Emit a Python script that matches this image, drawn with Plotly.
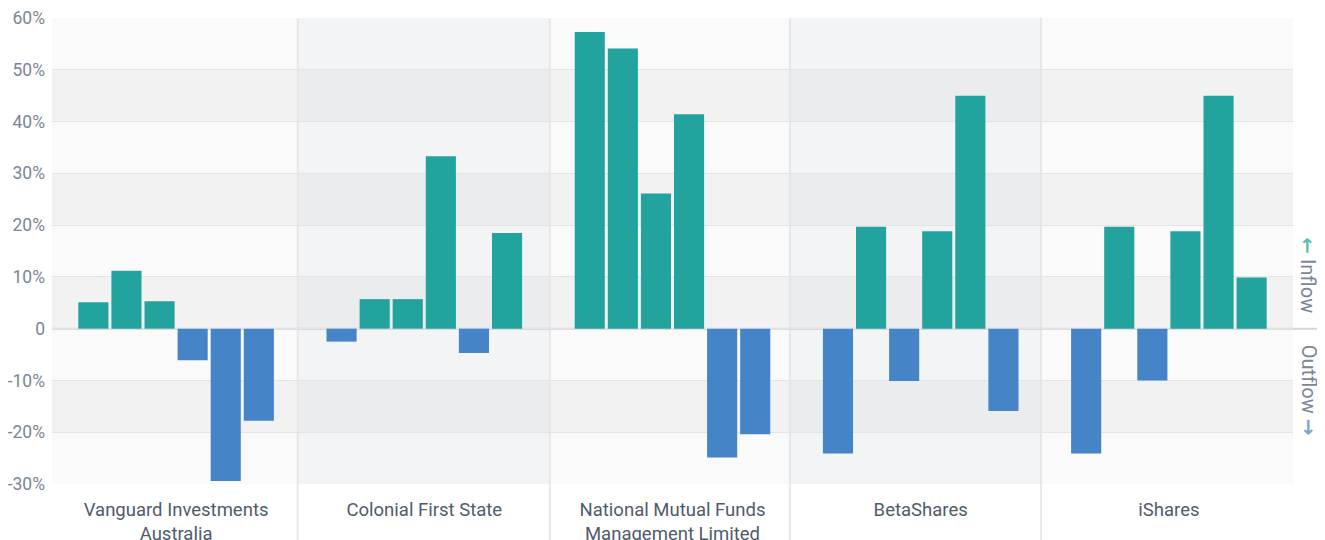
import plotly.graph_objects as go

categories = ["Vanguard Investments<br>Australia", "Colonial First State",
              "National Mutual Funds<br>Management Limited", "BetaShares", "iShares"]
series_names = ["Period 1", "Period 2", "Period 3", "Period 4", "Period 5", "Period 6"]
# values per series (one list per bar slot), in percent
s1 = [5.1, -2.5, 57.3, -24.1, -24.1]
s2 = [11.2, 5.7, 54.1, 19.7, 19.7]
s3 = [5.3, 5.7, 26.1, -10.1, -10.0]
s4 = [-6.1, 33.3, 41.4, 18.8, 18.8]
s5 = [-29.4, -4.7, -24.9, 45.0, 45.0]
s6 = [-17.8, 18.5, -20.4, -15.9, 9.9]
series = [s1, s2, s3, s4, s5, s6]

y_ticks = [-30, -20, -10, 0, 10, 20, 30, 40, 50, 60]
y_tick_text = ["-30%", "-20%", "-10%", "0", "10%", "20%", "30%", "40%", "50%", "60%"]

POS = "#23a39e"
NEG = "#4584c6"
FONT = "Roboto"

fig = go.Figure()
for name, vals in zip(series_names, series):
    fig.add_trace(go.Bar(
        x=list(range(len(categories))), y=vals, name=name,
        marker=dict(color=[POS if v >= 0 else NEG for v in vals], line=dict(width=0)),
        hovertemplate="%{y:.1f}%<extra></extra>",
    ))

shapes = []
# horizontal alternating bands
for lo in [-20, 0, 20, 40]:
    shapes.append(dict(type="rect", xref="paper", yref="y", x0=0, x1=1, y0=lo, y1=lo + 10,
                       fillcolor="#f2f2f2", line=dict(width=0), layer="below"))
# tinted columns for 2nd and 4th groups
for x0, x1 in [(0.49, 1.506), (2.473, 3.485)]:
    shapes.append(dict(type="rect", xref="x", yref="y", x0=x0, x1=x1, y0=-30, y1=60,
                       fillcolor="rgba(130,150,190,0.06)", line=dict(width=0), layer="below"))
# vertical separators
for xs in [0.49, 1.506, 2.473, 3.485]:
    shapes.append(dict(type="line", xref="x", yref="paper", x0=xs, x1=xs, y0=-0.16, y1=1,
                       line=dict(color="#e8e9ec", width=2), layer="below"))
# zero line extending to the right labels
shapes.append(dict(type="line", xref="paper", yref="y", x0=0, x1=1.022, y0=0, y1=0,
                   line=dict(color="#d3d6db", width=2), layer="below"))

ARROW_STYLE = "font-family:\"DejaVu Sans\";font-weight:bold;font-size:20px;color:{}"

fig.update_layout(
    width=1325, height=540,
    margin=dict(l=44, r=40, t=10, b=64, autoexpand=False),
    paper_bgcolor="white", plot_bgcolor="#fafafa",
    barmode="group", bargap=0.2, bargroupgap=0.09,
    showlegend=False,
    font=dict(family=FONT),
    shapes=shapes,
    xaxis=dict(tickvals=list(range(len(categories))), ticktext=categories,
               range=[-0.5, 4.5], showgrid=False, zeroline=False, showline=False,
               tickfont=dict(size=18.5, color="#4f5b6b", family=FONT), ticks="",
               ticklabelstandoff=12, automargin=False),
    yaxis=dict(range=[-30, 60], tickvals=y_ticks, ticktext=y_tick_text,
               showgrid=True, gridcolor="#e4e4e6", gridwidth=1, zeroline=False,
               tickfont=dict(size=17.5, color="#7b8597", family=FONT), ticks="",
               ticklabelstandoff=6, automargin=False),
    annotations=[
        dict(xref="paper", yref="y", x=1.0125, xanchor="center", y=0, yanchor="bottom", yshift=14,
             text="<span style='" + ARROW_STYLE.format("#5fbdb3") + "'>←</span> Inflow",
             showarrow=False, textangle=90, font=dict(size=20, color="#7b8597", family=FONT)),
        dict(xref="paper", yref="y", x=1.0125, xanchor="center", y=0, yanchor="top", yshift=-14,
             text="Outflow <span style='" + ARROW_STYLE.format("#78a6d8") + "'>→</span>",
             showarrow=False, textangle=90, font=dict(size=20, color="#7b8597", family=FONT)),
    ],
)

fig.write_html("out.html")
